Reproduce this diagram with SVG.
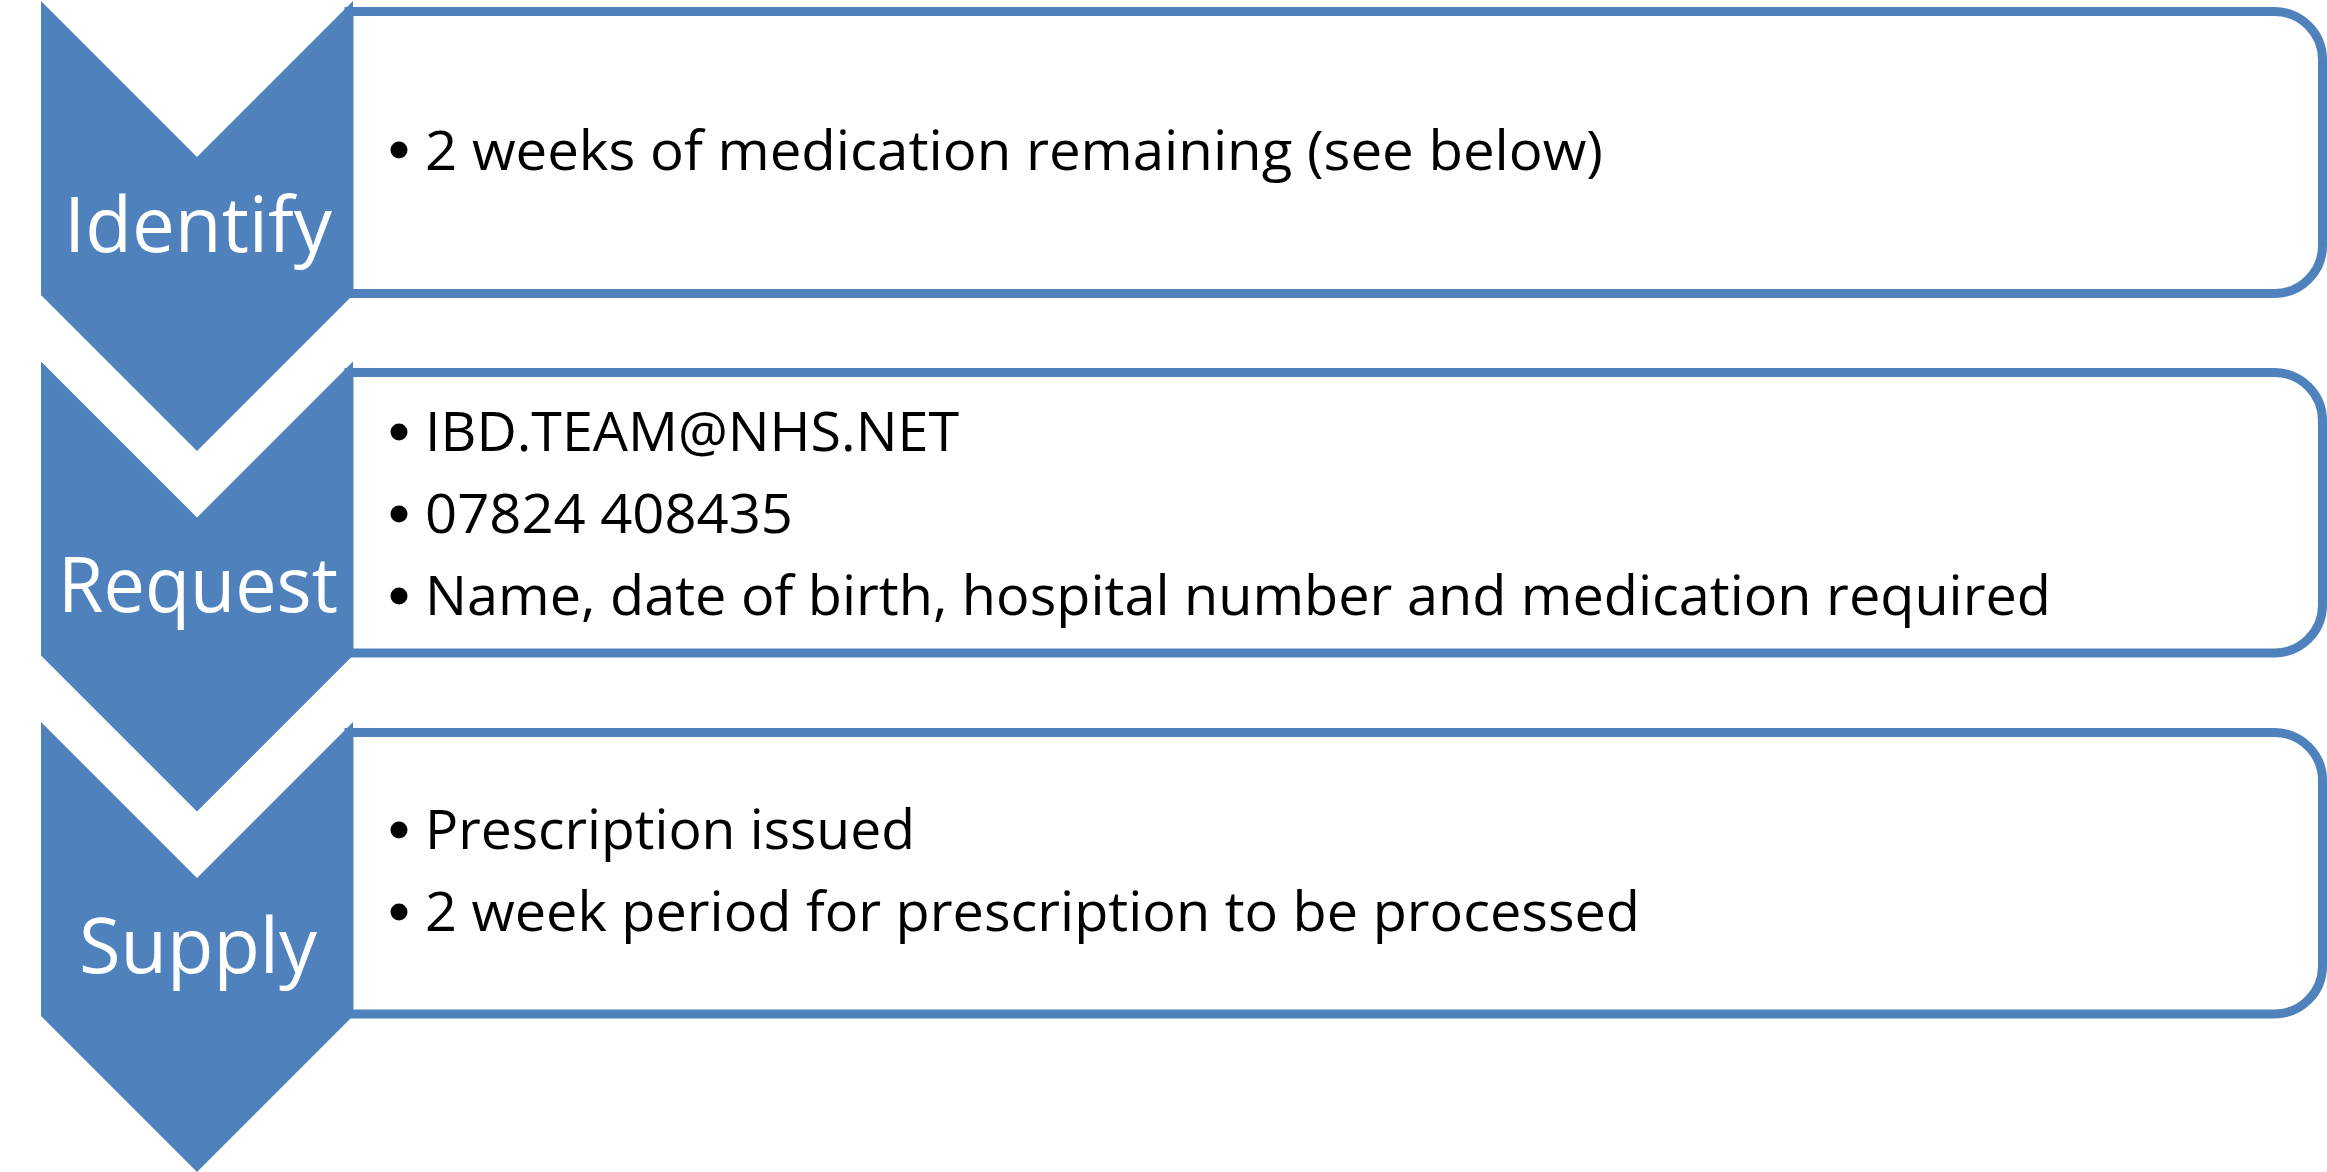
<svg xmlns="http://www.w3.org/2000/svg" width="2327" height="1172" viewBox="0 0 2327 1172">
  <style>
    .chev { fill: #4F81BD; }
    .box { fill: #FFFFFF; stroke: #4F81BD; stroke-width: 9; }
    text { font-variant-ligatures: none; }
    .label { font-family: "Open Sans", "Noto Sans", sans-serif; font-size: 76px; fill: #FFFFFF; text-anchor: middle; }
    .item { font-family: "Open Sans", "Noto Sans", sans-serif; font-size: 55px; fill: #000000; }
    .dot { fill: #000000; }
  </style>
  <rect width="2327" height="1172" fill="#FFFFFF"/>
  <g id="connectors"></g>

  <g id="node-identify">
    <path class="box" d="M349 11.5 H2274.5 A48 48 0 0 1 2322.5 59.5 V245.5 A48 48 0 0 1 2274.5 293.5 H349 Z"/>
    <path class="chev" d="M41 1 L197 157 L353 1 V295 L197 451 L41 295 Z"/>
    <text class="label" x="198" y="252" textLength="268" lengthAdjust="spacingAndGlyphs">Identify</text>
    <circle class="dot" cx="399" cy="150" r="8.5"/>
    <text class="item" x="425" y="170" textLength="1178" lengthAdjust="spacingAndGlyphs">2 weeks of medication remaining (see below)</text>
  </g>

  <g id="node-request">
    <path class="box" d="M349 372.5 H2274.5 A48 48 0 0 1 2322.5 420.5 V605 A48 48 0 0 1 2274.5 653 H349 Z"/>
    <path class="chev" d="M41 361.5 L197 517.5 L353 361.5 V655.5 L197 811.5 L41 655.5 Z"/>
    <text class="label" x="198" y="612" textLength="280" lengthAdjust="spacingAndGlyphs">Request</text>
    <circle class="dot" cx="399" cy="432" r="8.5"/>
    <text class="item" x="425" y="451" textLength="534" lengthAdjust="spacingAndGlyphs">IBD.TEAM@NHS.NET</text>
    <circle class="dot" cx="399" cy="514" r="8.5"/>
    <text class="item" x="425" y="533" textLength="368" lengthAdjust="spacingAndGlyphs">07824 408435</text>
    <circle class="dot" cx="399" cy="596" r="8.5"/>
    <text class="item" x="425" y="615" textLength="1626" lengthAdjust="spacingAndGlyphs">Name, date of birth, hospital number and medication required</text>
  </g>

  <g id="node-supply">
    <path class="box" d="M349 732.5 H2274.5 A48 48 0 0 1 2322.5 780.5 V966 A48 48 0 0 1 2274.5 1014 H349 Z"/>
    <path class="chev" d="M41 722 L197 878 L353 722 V1016 L197 1172 L41 1016 Z"/>
    <text class="label" x="198" y="973" textLength="238" lengthAdjust="spacingAndGlyphs">Supply</text>
    <circle class="dot" cx="399" cy="830" r="8.5"/>
    <text class="item" x="425" y="849" textLength="490" lengthAdjust="spacingAndGlyphs">Prescription issued</text>
    <circle class="dot" cx="399" cy="912" r="8.5"/>
    <text class="item" x="425" y="931" textLength="1215" lengthAdjust="spacingAndGlyphs">2 week period for prescription to be processed</text>
  </g>
</svg>
